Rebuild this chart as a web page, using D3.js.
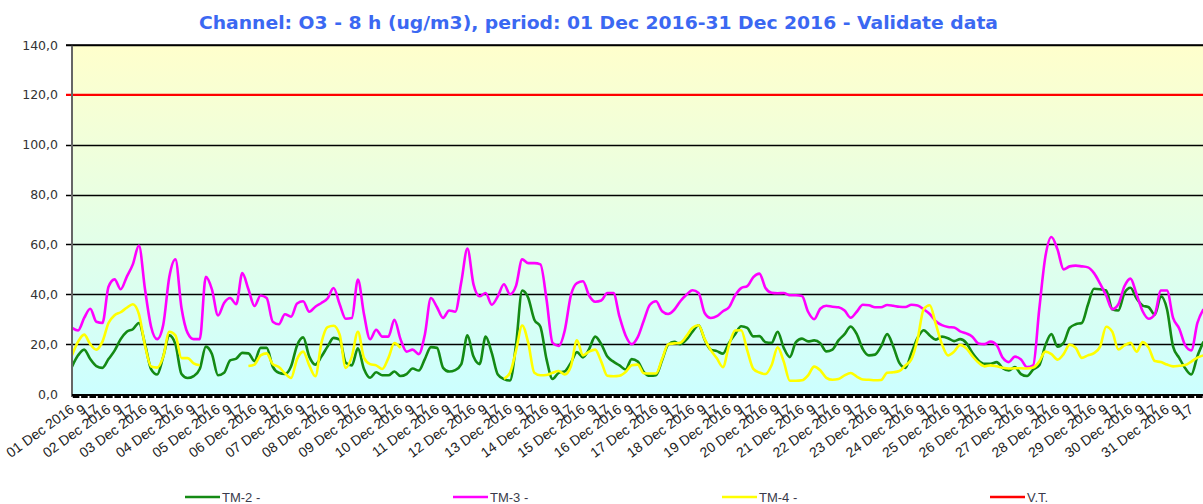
<!DOCTYPE html>
<html>
<head>
<meta charset="utf-8">
<script src="https://cdn.jsdelivr.net/npm/d3@7/dist/d3.min.js"></script>
<style>
  html, body { margin: 0; padding: 0; background: #ffffff; }
  svg { display: block; }
</style>
</head>
<body>
<svg id="chart" width="1203" height="504"></svg>
<script>
// O3 8-hour running means, one sample every 4 hours from 01 Dec 2016 01:00
const sampleStepHours = 4;
const totalHours = 744;

const tm2 = [
  11, 15.5, 17.8, 14, 11.2, 10.5, 14, 17.4, 22, 25,
  26, 28.5, 20, 10, 7.8, 15, 23.5, 20, 8, 6.4,
  7.2, 10, 19, 16, 7.5, 8.5, 13.5, 14.2, 16.5, 16.3,
  13.2, 18.5, 18.5, 11, 8.5, 8, 11, 19.5, 22.7, 15,
  11.8, 15, 19, 22.5, 21.8, 12.5, 11.5, 18.3,
  10, 6.5, 8.7, 7.5, 7.5, 9, 7.2, 8, 10.2, 9.4,
  14, 18.8, 18.5, 10.5, 9, 9.6, 12, 23.5, 15, 12,
  23, 16.5, 7.8, 6, 5.4, 20, 41.5, 38.5, 29.8, 27,
  14, 6, 8.5, 9.1, 12.5, 16.8, 14.7, 18, 23, 20,
  15, 13, 11.5, 9.8, 14, 13,
  8.8, 7.3, 7.5, 13.5, 19.8, 20.9, 20, 21.8, 25, 27.6,
  21.8, 17.8, 17.2, 16.2, 20.5, 24, 27.2, 26.5, 23.1, 23.2,
  20.8, 20.5, 25, 18.5, 14.8, 20.8, 22.2, 21.1, 21.5, 20.4,
  17.1, 17.8, 21.5, 24, 27.1, 24, 18, 15.5, 15.8, 19.1,
  24, 19.1, 12.5, 10.5, 16.5, 22.5,
  25.6, 23.5, 21.8, 23, 22.4, 21.2, 22, 20.5, 16.5, 13.5,
  12.1, 12.1, 12.8, 10.4, 9.4, 10.8, 8, 7.2, 9.8, 11.5,
  19.5, 24, 19, 20.5, 26.5, 28, 28.5, 35.8, 42.2, 42,
  41.5, 34, 33.5, 40.5, 42.6, 38.3, 35.5, 34.8, 31.8, 39.2,
  34, 19, 14.5, 10.3, 7.8, 15.2, 21
];

const tm3 = [
  26.5, 25.5, 30.5, 34.2, 29, 28.5, 43, 46, 42, 47,
  52, 59.5, 42, 27, 22, 27.8, 47, 54, 34.5, 24.5,
  22, 22, 47, 42, 31.5, 36.5, 38.5, 36, 48.5, 42,
  35.3, 39.5, 38.5, 29, 28, 32, 31, 36.3, 37.2, 33,
  35, 36.5, 38.3, 42.5, 36, 30.2, 30.5, 45.9,
  32, 22, 25.8, 23, 23, 29.8, 22, 17, 17.8, 16,
  23.8, 38.5, 34.8, 30.5, 33.5, 33, 45, 58.3, 44, 39.2,
  40.5, 35.8, 39.2, 44, 40, 43.5, 54, 52.5, 52.5, 52,
  38, 20.5, 19.3, 25.5, 39.5, 44.5, 45.2, 39.5, 37, 37.5,
  40.5, 40.5, 31, 23.5, 20, 22.8,
  29.5, 35.8, 37.2, 33.2, 32.1, 33.8, 37.2, 39.8, 41.6, 40.5,
  32.5, 30.5, 31.2, 33.2, 34.8, 39.5, 42.5, 43.3, 46.9, 48.3,
  42.5, 40.6, 40.4, 40.5, 39.6, 39.6, 39.3, 33, 30, 34.2,
  35.4, 35, 34.8, 33.5, 30.6, 33, 35.8, 35.6, 34.8, 34.8,
  35.7, 35.4, 35, 34.9, 35.8, 35.5,
  34, 32.1, 29.2, 27.6, 26.9, 26.7, 25.1, 24.3, 23, 20.3,
  20, 21, 19.6, 14.5, 12.8, 15, 13.8, 10.8, 11.5, 34,
  55, 63, 58, 50, 51.2, 51.5, 51.2, 50.8, 48.5, 44.3,
  39.5, 34, 36, 43.2, 46.3, 40, 33.2, 30.2, 32, 41.5,
  41.5, 30.5, 26.3, 19.5, 17.5, 28.5, 34
];

// null = missing data
const tm4 = [
  15.5, 21, 23.8, 20, 17.8, 21, 28.5, 31.6, 32.8, 34.6,
  36, 32, 19.5, 11, 10.6, 15, 25, 23.5, 14.4, 14.4,
  12.3, 11.5,
  null, null, null, null, null, null, null,
  11.2, 11.8, 15.5, 16.3, 12, 10.8, 8.3, 6.4, 14, 17, 11.5,
  7.1, 20.5, 26.8, 27.4, 23.8, 10.5, 15, 25,
  14.5, 12, 11.5, 10, 14.4, 20.4, 18.5,
  null, null, null, null, null, null, null, null,
  null, null, null, null, null, null, null, null,
  6.1, 8.5, 17.5, 27.5, 20.5, 8.5, 7.5, 7.6, 8.5, 9.2,
  7.8, 11, 21.5, 15.5, 17, 17.8, 13, 7.3, 7.1, 7.3,
  8.8, 11.5, 11.8,
  8.3, 8.2, 8.2, 14, 20, 20.3, 20.6, 23.2, 26.6, 27.6,
  22, 17.6, 14.3, 10.8, 19.5, 25.5, 25.6, 17.5, 10.1, 8.6,
  8, 11.5, 18.7, 13, 5.3, 5.3, 5.5, 7.5, 11, 9.5,
  6.5, 5.7, 6, 7.5, 8.4, 7, 5.8, 5.7, 5.5, 5.6,
  8.5, 8.7, 9.2, 11.5, 14, 22,
  34, 35.6, 28, 20, 15.5, 17, 19.7, 18.3, 15.2, 12.6,
  11.1, 11.5, 11.1, 10.5, 10.2, 10.3, 10.3, 10.2, 10.6, 13,
  17, 16, 13.8, 16, 19.8, 18.5, 14.5, 15.5, 16.4, 19,
  27, 25, 17.9, 19.5, 20.5, 17, 20.8, 18.5, 13.2, 12.8,
  11.8, 11.1, 11.3, 11.6, 13, 14.6, 15.5
];

// Target value (V.T.)
const targetValue = 120;

const yTicks = [0, 20, 40, 60, 80, 100, 120, 140];

const dayLabels = [
  "01 Dec 2016", "02 Dec 2016", "03 Dec 2016", "04 Dec 2016", "05 Dec 2016",
  "06 Dec 2016", "07 Dec 2016", "08 Dec 2016", "09 Dec 2016", "10 Dec 2016",
  "11 Dec 2016", "12 Dec 2016", "13 Dec 2016", "14 Dec 2016", "15 Dec 2016",
  "16 Dec 2016", "17 Dec 2016", "18 Dec 2016", "19 Dec 2016", "20 Dec 2016",
  "21 Dec 2016", "22 Dec 2016", "23 Dec 2016", "24 Dec 2016", "25 Dec 2016",
  "26 Dec 2016", "27 Dec 2016", "28 Dec 2016", "29 Dec 2016", "30 Dec 2016",
  "31 Dec 2016"
];
const hourLabels = ["9", "17"];

const seriesNames = ["TM-2 -", "TM-3 -", "TM-4 -", "V.T."];
const seriesColors = ["#148a14", "#ff00ff", "#ffff00", "#ff0000"];

const titleText = "Channel: O3 - 8 h (ug/m3), period: 01 Dec 2016-31 Dec 2016 - Validate data";

// ---------------------------------------------------------------
const svg = d3.select("#chart");
const plotLeft = 72, plotRight = 1203.5, plotTop = 45, plotBottom = 394;

const x = d3.scaleLinear().domain([0, totalHours]).range([plotLeft, plotRight]);
const y = d3.scaleLinear().domain([0, 140]).range([plotBottom, plotTop]);

// plot background gradient
const defs = svg.append("defs");
const grad = defs.append("linearGradient")
  .attr("id", "bg").attr("x1", 0).attr("y1", 0).attr("x2", 0).attr("y2", 1);
grad.append("stop").attr("offset", "0%").attr("stop-color", "#ffffcc");
grad.append("stop").attr("offset", "100%").attr("stop-color", "#ccffff");

defs.append("clipPath").attr("id", "plotClip")
  .append("rect").attr("x", plotLeft).attr("y", plotTop - 5)
  .attr("width", plotRight - plotLeft).attr("height", plotBottom - plotTop + 5);

svg.append("rect")
  .attr("x", plotLeft).attr("y", plotTop)
  .attr("width", plotRight - plotLeft).attr("height", plotBottom - plotTop)
  .attr("fill", "url(#bg)");

// title
svg.append("text")
  .attr("x", 598.5).attr("y", 29)
  .attr("text-anchor", "middle")
  .attr("font-family", "'DejaVu Sans', Verdana, sans-serif")
  .attr("font-weight", "bold")
  .attr("font-size", 17)
  .attr("fill", "#3b68f2")
  .attr("textLength", 799)
  .attr("lengthAdjust", "spacingAndGlyphs")
  .text(titleText);

// horizontal grid lines with small left ticks
const grid = svg.append("g");
grid.selectAll("line")
  .data(yTicks.filter(v => v > 0 && v !== targetValue))
  .join("line")
  .attr("x1", plotLeft - 6).attr("x2", plotRight)
  .attr("y1", d => Math.round(y(d)) + 0.5).attr("y2", d => Math.round(y(d)) + 0.5)
  .attr("stroke", "#000").attr("stroke-width", 1.3);

// y labels
const yAxis = d3.axisLeft(y)
  .tickValues(yTicks)
  .tickSize(0)
  .tickPadding(14)
  .tickFormat(d => d3.format(".1f")(d).replace(".", ","));
const gy = svg.append("g").attr("transform", `translate(${plotLeft},0)`).call(yAxis);
gy.select(".domain").remove();
gy.selectAll("text")
  .attr("font-family", "'DejaVu Sans', Verdana, sans-serif")
  .attr("font-size", 12.5)
  .attr("fill", "#333");

// series lines
const plot = svg.append("g").attr("clip-path", "url(#plotClip)");
const line = d3.line()
  .defined(d => d != null)
  .x((d, i) => x(i * sampleStepHours))
  .y(d => y(d))
  .curve(d3.curveMonotoneX);

[tm2, tm3, tm4].forEach((vals, si) => {
  plot.append("path")
    .datum(vals)
    .attr("fill", "none")
    .attr("stroke", seriesColors[si])
    .attr("stroke-width", 2.6)
    .attr("stroke-linejoin", "round")
    .attr("d", line);
});

// target line
svg.append("line")
  .attr("x1", plotLeft - 6).attr("x2", plotRight)
  .attr("y1", y(targetValue)).attr("y2", y(targetValue))
  .attr("stroke", seriesColors[3]).attr("stroke-width", 2.2);

// y axis line
svg.append("line")
  .attr("x1", plotLeft).attr("x2", plotLeft)
  .attr("y1", plotTop).attr("y2", plotBottom + 3)
  .attr("stroke", "#666").attr("stroke-width", 2);

// x axis: base line and dense tick marks
const xTickCount = 136;
const xTicks = d3.range(0, xTickCount + 1).map(i => i * totalHours / xTickCount);
const xAxis = d3.axisBottom(x).tickValues(xTicks).tickSize(3).tickFormat("");
const gx = svg.append("g").attr("transform", `translate(0,${plotBottom + 1})`).call(xAxis);
gx.select(".domain").attr("stroke", "#000").attr("stroke-width", 2).attr("d", `M${plotLeft},0H${plotRight}`);
gx.selectAll(".tick line").attr("stroke", "#000").attr("stroke-width", 6.6)
  .attr("transform", "translate(3.6,0)");

// top border
svg.append("line")
  .attr("x1", plotLeft - 6).attr("x2", plotRight)
  .attr("y1", plotTop).attr("y2", plotTop)
  .attr("stroke", "#000").attr("stroke-width", 1.6);

// x labels: day label then hours 9 and 17
const xLabels = [];
dayLabels.forEach((lab, d) => {
  xLabels.push({ h: d * 24, t: lab });
  xLabels.push({ h: d * 24 + 8, t: hourLabels[0] });
  xLabels.push({ h: d * 24 + 16, t: hourLabels[1] });
});
svg.append("g").selectAll("text")
  .data(xLabels)
  .join("text")
  .attr("transform", d => `translate(${x(d.h) + 3},${plotBottom + 17.5}) rotate(-36)`)
  .attr("text-anchor", "end")
  .attr("font-family", "'Liberation Sans', Arial, sans-serif")
  .attr("font-size", 14)
  .attr("fill", "#222")
  .text(d => d.t);

// legend
const legendX = [185, 453, 722, 990];
const lg = svg.append("g");
seriesNames.forEach((name, i) => {
  lg.append("line")
    .attr("x1", legendX[i]).attr("x2", legendX[i] + 35)
    .attr("y1", 497).attr("y2", 497)
    .attr("stroke", seriesColors[i]).attr("stroke-width", 2.5);
  lg.append("text")
    .attr("x", legendX[i] + 37).attr("y", 502)
    .attr("font-family", "'Liberation Sans', Arial, sans-serif")
    .attr("font-size", 13)
    .attr("fill", "#3a3a4a")
    .text(name);
});
</script>
</body>
</html>
